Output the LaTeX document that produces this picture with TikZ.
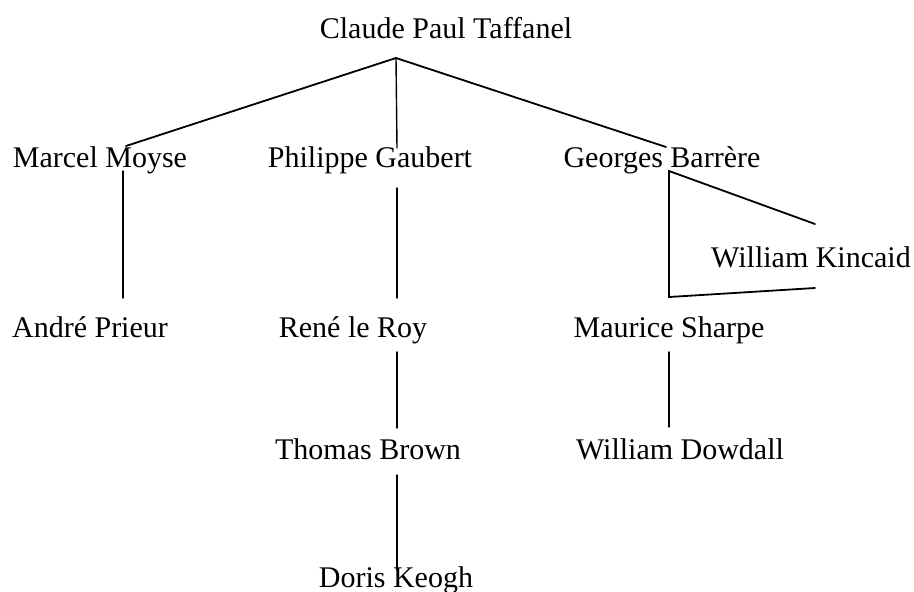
\documentclass[tikz,border=0pt]{standalone}
\usepackage{fontspec}
\setmainfont{Liberation Serif}
\begin{document}
\begin{tikzpicture}[x=1pt,y=-1pt,
  person/.style={anchor=base,inner sep=0pt,font=\fontsize{30}{36}\selectfont},
  link/.style={line width=1.4pt,line cap=round,line join=miter},
  slant/.style={link,line width=1.8pt}]
\useasboundingbox (0,0) rectangle (914,592);
% names
\node[person] (taf) at (446,38) {Claude Paul Taffanel};
\node[person] (moy) at (100,167) {Marcel Moyse};
\node[person] (gau) at (370,167) {Philippe Gaubert};
\node[person] (bar) at (662,167) {Georges Barrère};
\node[person] (kin) at (811,267) {William Kincaid};
\node[person] (pri) at (90,337) {André Prieur};
\node[person] (roy) at (353,337) {René le Roy};
\node[person] (sha) at (669,337) {Maurice Sharpe};
\node[person] (bro) at (368,459) {Thomas Brown};
\node[person] (dow) at (680,459) {William Dowdall};
\node[person] (keo) at (396,587) {Doris Keogh};
% connector end points
\coordinate (apex) at (396,58);
\coordinate (moyT) at (126,146);
\coordinate (gauT) at (397,148);
\coordinate (barT) at (666,147);
\coordinate (moyB) at (123,171);
\coordinate (priT) at (123,298);
\coordinate (gauB) at (397,188);
\coordinate (royT) at (397,298);
\coordinate (royB) at (397,352);
\coordinate (broT) at (397,428);
\coordinate (broB) at (397,475);
\coordinate (keoT) at (397,570);
\coordinate (barB) at (669,171);
\coordinate (kinT) at (815,224);
\coordinate (kinB) at (815,288);
\coordinate (shaT) at (669,297);
\coordinate (shaB) at (669,352);
\coordinate (dowT) at (669,427);
% connectors
\draw[slant] (apex) -- (moyT);
\draw[link] (apex) -- (gauT);
\draw[slant] (apex) -- (barT);
\draw[link] (moyB) -- (priT);
\draw[link] (gauB) -- (royT);
\draw[link] (royB) -- (broT);
\draw[link] (broB) -- (keoT);
\draw[slant] (kinT) -- (barB) -- (shaT) -- (kinB);
\draw[link] (shaB) -- (dowT);
\end{tikzpicture}
\end{document}
